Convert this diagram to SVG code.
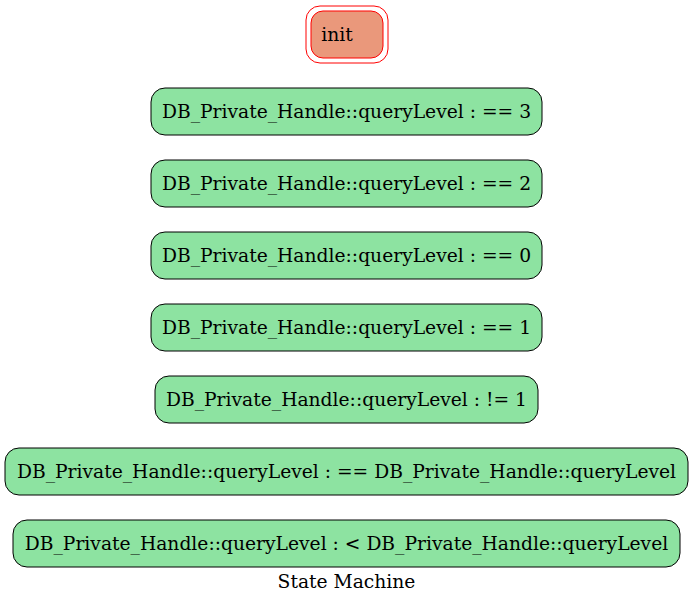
<svg xmlns="http://www.w3.org/2000/svg" width="693" height="604" viewBox="0 0 693 604">
<style>
.st rect{fill:#8de3a1;stroke:#000;stroke-width:1}
text{font-family:"DejaVu Serif",serif;font-size:18.7px;fill:#000;text-anchor:middle}
</style>
<rect width="693" height="604" fill="#fff"/>
<g id="init">
<rect x="306" y="6" width="82" height="57" rx="14" fill="none" stroke="#ff0000"/>
<rect x="311" y="11" width="72" height="47" rx="12" fill="#ea987b" stroke="#ff0000"/>
<text x="337" y="41">init</text>
</g>
<g id="s3" class="st"><rect x="151" y="88" width="391" height="47" rx="14"/><text x="346.5" y="118">DB_Private_Handle::queryLevel : == 3</text></g>
<g id="s2" class="st"><rect x="151" y="160" width="391" height="47" rx="14"/><text x="346.5" y="190">DB_Private_Handle::queryLevel : == 2</text></g>
<g id="s0" class="st"><rect x="151" y="232" width="391" height="47" rx="14"/><text x="346.5" y="262">DB_Private_Handle::queryLevel : == 0</text></g>
<g id="s1" class="st"><rect x="151" y="304" width="391" height="47" rx="14"/><text x="346.5" y="334">DB_Private_Handle::queryLevel : == 1</text></g>
<g id="sne1" class="st"><rect x="155" y="376" width="383" height="47" rx="14"/><text x="346.5" y="406">DB_Private_Handle::queryLevel : != 1</text></g>
<g id="seq" class="st"><rect x="5" y="448" width="683" height="47" rx="14"/><text x="346.5" y="478">DB_Private_Handle::queryLevel : == DB_Private_Handle::queryLevel</text></g>
<g id="slt" class="st"><rect x="13" y="520" width="667" height="47" rx="14"/><text x="346.5" y="550">DB_Private_Handle::queryLevel : &lt; DB_Private_Handle::queryLevel</text></g>
<g id="connectors"></g>
<text x="346.5" y="588">State Machine</text>
</svg>
